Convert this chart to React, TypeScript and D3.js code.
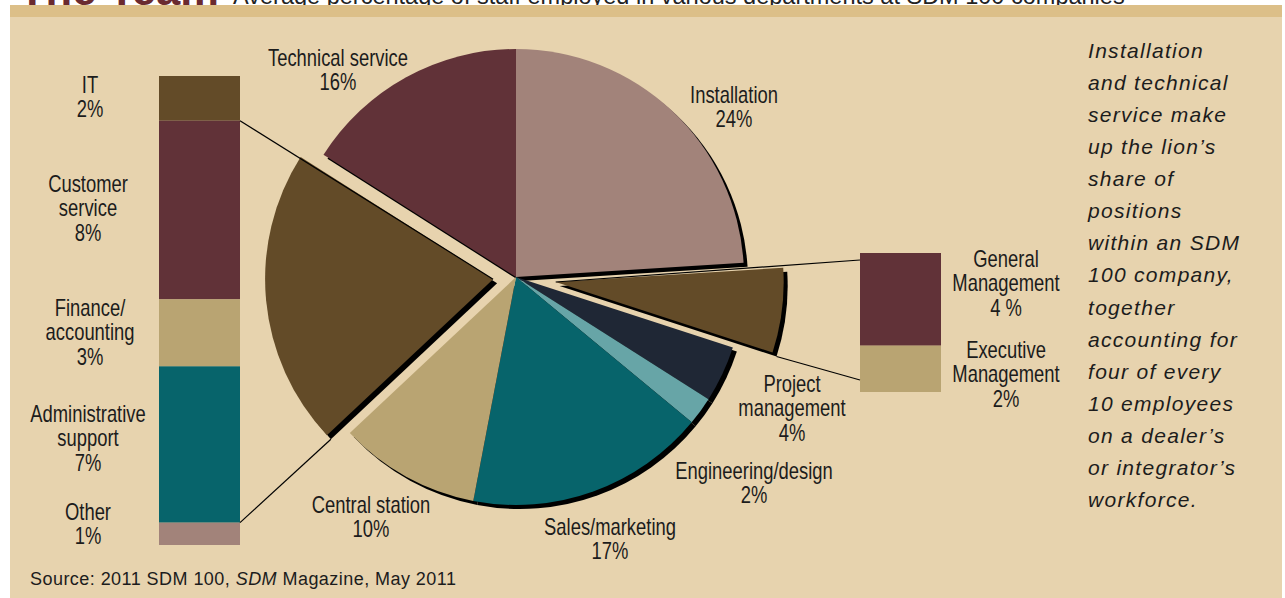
import React from "react";
import * as d3 from "d3";

// ---- data ----
const pieCategories = ["Installation", "Management", "Project management", "Engineering/design", "Sales/marketing", "Central station", "Support group", "Technical service"];
const pieValues = [24, 6, 4, 2, 17, 10, 21, 16];
const pieColors = ["#a2837a", "#634b28", "#1f2735", "#67a5a7", "#07646b", "#b9a472", "#634b28", "#613238"];
const pieExplode = [0, 40, 0, 0, 0, 0, 23, 0];

const leftBarCategories = ["IT", "Customer service", "Finance/accounting", "Administrative support", "Other"];
const leftBarValues = [2, 8, 3, 7, 1];
const leftBarColors = ["#634b28", "#613238", "#b9a472", "#07646b", "#a2837a"];

const rightBarCategories = ["General Management", "Executive Management"];
const rightBarValues = [4, 2];
const rightBarColors = ["#613238", "#b9a472"];

const labelTexts: { lines: string[]; x: number; y: number }[] = [
  { lines: ["Technical service", "16%"], x: 338, y: 66 },
  { lines: ["Installation", "24%"], x: 734, y: 103 },
  { lines: ["IT", "2%"], x: 90, y: 93 },
  { lines: ["Customer", "service", "8%"], x: 88, y: 192 },
  { lines: ["Finance/", "accounting", "3%"], x: 90, y: 316 },
  { lines: ["Administrative", "support", "7%"], x: 88, y: 422 },
  { lines: ["Other", "1%"], x: 88, y: 520 },
  { lines: ["General", "Management", "4 %"], x: 1006, y: 267 },
  { lines: ["Executive", "Management", "2%"], x: 1006, y: 358 },
  { lines: ["Project", "management", "4%"], x: 792, y: 392 },
  { lines: ["Engineering/design", "2%"], x: 754, y: 479 },
  { lines: ["Sales/marketing", "17%"], x: 610, y: 535 },
  { lines: ["Central station", "10%"], x: 371, y: 513 },
];

const noteLines = [
  "Installation",
  "and technical",
  "service make",
  "up the lion\u2019s",
  "share of",
  "positions",
  "within an SDM",
  "100 company,",
  "together",
  "accounting for",
  "four of every",
  "10 employees",
  "on a dealer\u2019s",
  "or integrator\u2019s",
  "workforce.",
];

const W = 1285;
const H = 598;
const CX = 516;
const CY = 277;
const R = 228;
const SHADOW = 4;
const LABEL_FONT = "'Liberation Sans', Arial, sans-serif";
const TEXT_COLOR = "#1c1c1c";

function MultiLine({ x, y, lines, lh = 24.5 }: { x: number; y: number; lines: string[]; lh?: number }) {
  return (
    <text
      transform={`translate(${x},${y}) scale(0.8,1)`}
      textAnchor="middle"
      fontFamily={LABEL_FONT}
      fontSize={23}
      fill={TEXT_COLOR}
    >
      {lines.map((l, i) => (
        <tspan key={i} x={0} y={i * lh}>
          {l}
        </tspan>
      ))}
    </text>
  );
}

export default function App() {
  const pie = d3.pie<number>().sort(null).value((d) => d).startAngle(0).endAngle(2 * Math.PI);
  const arcs = pie(pieValues);
  const arcGen = d3.arc<d3.PieArcDatum<number>>().innerRadius(0).outerRadius(R);

  const offsets = arcs.map((a, i) => {
    const mid = (a.startAngle + a.endAngle) / 2;
    return [Math.sin(mid) * pieExplode[i], -Math.cos(mid) * pieExplode[i]];
  });

  // bars
  const leftTotal = d3.sum(leftBarValues);
  const leftY = d3.scaleLinear().domain([0, leftTotal]).range([76, 545]);
  const leftX0 = 159;
  const leftX1 = 240;
  const leftCum = d3.cumsum(leftBarValues);

  const rightTotal = d3.sum(rightBarValues);
  const rightY = d3.scaleLinear().domain([0, rightTotal]).range([253, 392]);
  const rightX0 = 860;
  const rightX1 = 941;
  const rightCum = d3.cumsum(rightBarValues);

  // connector geometry
  const leftIdx = 6;
  const rightIdx = 1;
  const la = arcs[leftIdx];
  const lApex = [CX + offsets[leftIdx][0], CY + offsets[leftIdx][1]];
  const lLowCorner = [
    lApex[0] + Math.sin(la.startAngle) * R + SHADOW,
    lApex[1] - Math.cos(la.startAngle) * R + SHADOW,
  ];
  const ra = arcs[rightIdx];
  const rApex = [CX + offsets[rightIdx][0], CY + offsets[rightIdx][1]];
  const rLowCorner = [
    rApex[0] + Math.sin(ra.endAngle) * R + SHADOW,
    rApex[1] - Math.cos(ra.endAngle) * R + SHADOW,
  ];

  return (
    <svg width={W} height={H} style={{ position: "absolute", left: 0, top: 0, display: "block" }}>
      <rect x={0} y={0} width={W} height={H} fill="#ffffff" />
      {/* title (cut off at top, as in the source) */}
      <text x={19} y={5} fontFamily={LABEL_FONT} fontWeight="bold" fontSize={44} fill="#6a2a30"
        transform="translate(19,0) scale(0.99,1) translate(-19,0)">
        The Team
      </text>
      <text x={233} y={4} fontFamily={LABEL_FONT} fontSize={24} fill="#222"
        transform="translate(233,0) scale(0.98,1) translate(-233,0)">
        Average percentage of staff employed in various departments at SDM 100 companies
      </text>
      {/* panel */}
      <rect x={10} y={5} width={1272} height={12} fill="#dcbf88" />
      <rect x={10} y={17} width={1272} height={H - 17} fill="#e7d3ae" />

      {/* pie shadows */}
      {arcs.map((a, i) => (
        <path
          key={"s" + i}
          d={arcGen(a) || ""}
          transform={`translate(${CX + offsets[i][0] + SHADOW},${CY + offsets[i][1] + SHADOW})`}
          fill="#000"
        />
      ))}
      {/* pie slices */}
      {arcs.map((a, i) => (
        <path
          key={"p" + i}
          d={arcGen(a) || ""}
          transform={`translate(${CX + offsets[i][0]},${CY + offsets[i][1]})`}
          fill={pieColors[i]}
        />
      ))}

      {/* left stacked bar */}
      {leftBarValues.map((v, i) => (
        <rect
          key={"lb" + i}
          x={leftX0}
          y={leftY(leftCum[i] - v)}
          width={leftX1 - leftX0}
          height={leftY(leftCum[i]) - leftY(leftCum[i] - v)}
          fill={leftBarColors[i]}
        />
      ))}
      {/* right stacked bar */}
      {rightBarValues.map((v, i) => (
        <rect
          key={"rb" + i}
          x={rightX0}
          y={rightY(rightCum[i] - v)}
          width={rightX1 - rightX0}
          height={rightY(rightCum[i]) - rightY(rightCum[i] - v)}
          fill={rightBarColors[i]}
        />
      ))}

      {/* connectors */}
      <g stroke="#000" strokeWidth={1.2} fill="none">
        <line x1={leftX1} y1={leftY(leftCum[0])} x2={lApex[0]} y2={lApex[1]} />
        <line x1={leftX1} y1={leftY(leftCum[3])} x2={lLowCorner[0]} y2={lLowCorner[1]} />
        <line x1={rightX0} y1={rightY(0) + 7} x2={rApex[0]} y2={rApex[1]} />
        <line x1={rightX0} y1={rightY(rightTotal) - 12} x2={rLowCorner[0]} y2={rLowCorner[1]} />
      </g>

      {/* labels */}
      {labelTexts.map((l, i) => (
        <MultiLine key={"l" + i} x={l.x} y={l.y} lines={l.lines} />
      ))}

      {/* note */}
      <text fontFamily={LABEL_FONT} fontStyle="italic" fontSize={21} fill={TEXT_COLOR} letterSpacing={1.3}>
        {noteLines.map((l, i) => (
          <tspan key={i} x={1088} y={58 + i * 32.07}>
            {l}
          </tspan>
        ))}
      </text>

      {/* source */}
      <text x={30} y={585} fontFamily={LABEL_FONT} fontSize={18} fill={TEXT_COLOR} letterSpacing={0.45}>
        Source: 2011 SDM 100, <tspan fontStyle="italic">SDM</tspan> Magazine, May 2011
      </text>
    </svg>
  );
}
